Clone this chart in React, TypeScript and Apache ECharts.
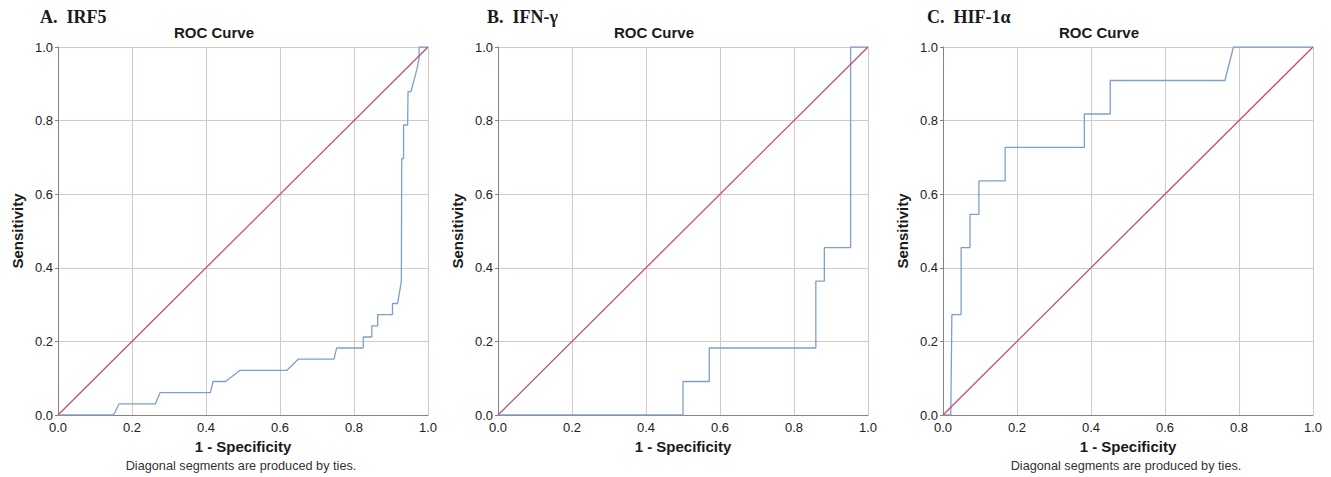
import React, { useEffect, useRef } from "react";
import * as echarts from "echarts";

const panelLabels = ["A.  IRF5", "B.  IFN-γ", "C.  HIF-1α"];
const chartTitle = "ROC Curve";
const xAxisName = "1 - Specificity";
const yAxisName = "Sensitivity";
const footnote = "Diagonal segments are produced by ties.";
const footnotePanels = [0, 2];

const rocIRF5: [number, number][] = [
  [0, 0], [0.150, 0], [0.165, 0.030], [0.263, 0.030], [0.276, 0.061], [0.412, 0.061],
  [0.419, 0.091], [0.453, 0.091], [0.491, 0.121], [0.618, 0.121], [0.650, 0.152],
  [0.746, 0.152], [0.753, 0.182], [0.825, 0.182], [0.825, 0.212], [0.848, 0.212],
  [0.848, 0.242], [0.864, 0.242], [0.864, 0.273], [0.904, 0.273], [0.904, 0.303],
  [0.918, 0.303], [0.923, 0.333], [0.928, 0.364], [0.929, 0.697], [0.934, 0.697],
  [0.934, 0.788], [0.945, 0.788], [0.946, 0.879], [0.954, 0.879], [0.970, 0.939],
  [0.976, 0.970], [0.976, 1], [1, 1],
];
const rocIFNg: [number, number][] = [
  [0, 0], [0.500, 0], [0.500, 0.091], [0.571, 0.091], [0.571, 0.182], [0.859, 0.182],
  [0.859, 0.364], [0.882, 0.364], [0.882, 0.455], [0.953, 0.455], [0.953, 1], [1, 1],
];
const rocHIF1a: [number, number][] = [
  [0, 0], [0.021, 0], [0.024, 0.273], [0.049, 0.273], [0.049, 0.455], [0.073, 0.455],
  [0.073, 0.545], [0.097, 0.545], [0.097, 0.636], [0.168, 0.636], [0.168, 0.727],
  [0.382, 0.727], [0.382, 0.818], [0.452, 0.818], [0.452, 0.909], [0.762, 0.909],
  [0.785, 1], [1, 1],
];
const referenceLine: [number, number][] = [[0, 0], [1, 1]];
const rocCurves = [rocIRF5, rocIFNg, rocHIF1a];

const gridLefts = [58, 498, 943];
const gridWidth = 370;
const gridTop = 47;
const gridHeight = 368;

export default function App() {
  const ref = useRef<HTMLDivElement>(null);
  useEffect(() => {
    if (!ref.current) return;
    const chart = echarts.init(ref.current, undefined, { renderer: "svg" });
    const font = "Liberation Sans";
    const axisLineColor = "#8a8282";
    const gridColor = "#d5c9c5";
    const grids = gridLefts.map((l) => ({ left: l, top: gridTop, width: gridWidth, height: gridHeight }));
    const xAxes = gridLefts.map((_, i) => ({
      type: "value", gridIndex: i, min: 0, max: 1, interval: 0.2,
      name: xAxisName, nameLocation: "middle", nameGap: 24,
      nameTextStyle: { fontFamily: font, fontWeight: "bold", fontSize: 15, color: "#1a1a1a" },
      axisLine: { show: true, onZero: false, lineStyle: { color: axisLineColor, width: 1 } },
      axisTick: { show: false },
      axisLabel: { margin: 6, fontFamily: font, fontSize: 13, color: "#222", formatter: (v: number) => v.toFixed(1) },
      splitLine: { show: true, showMinLine: false, lineStyle: { color: gridColor, width: 1 } },
    }));
    const yAxes = gridLefts.map((_, i) => ({
      type: "value", gridIndex: i, min: 0, max: 1, interval: 0.2,
      name: yAxisName, nameLocation: "middle", nameGap: 33, nameRotate: 90,
      nameTextStyle: { fontFamily: font, fontWeight: "bold", fontSize: 15, color: "#1a1a1a" },
      axisLine: { show: true, onZero: false, lineStyle: { color: axisLineColor, width: 1 } },
      axisTick: { show: true, length: 3, lineStyle: { color: axisLineColor } },
      axisLabel: { margin: 5, fontFamily: font, fontSize: 13, color: "#222", formatter: (v: number) => v.toFixed(1) },
      splitLine: { show: true, showMinLine: false, lineStyle: { color: gridColor, width: 1 } },
    }));
    const series: any[] = [];
    rocCurves.forEach((curve, i) => {
      series.push({
        type: "line", xAxisIndex: i, yAxisIndex: i, data: curve, showSymbol: false,
        lineStyle: { color: "#7f9fca", width: 1.3 }, z: 3,
      });
      series.push({
        type: "line", xAxisIndex: i, yAxisIndex: i, data: referenceLine, showSymbol: false,
        lineStyle: { color: "#c0506e", width: 1.3 }, z: 4,
      });
    });
    const labelX = [40, 487, 927];
    const graphic: any[] = [];
    panelLabels.forEach((t, i) => {
      graphic.push({
        type: "text", x: labelX[i], y: 17,
        style: { text: t, fontFamily: "Liberation Serif", fontWeight: "bold", fontSize: 18, fill: "#1a1a1a", align: "left", verticalAlign: "middle" },
      });
      graphic.push({
        type: "text", x: gridLefts[i] + gridWidth / 2 - 29, y: 32,
        style: { text: chartTitle, fontFamily: font, fontWeight: "bold", fontSize: 15, fill: "#1a1a1a", align: "center", verticalAlign: "middle" },
      });
    });
    footnotePanels.forEach((i) => {
      graphic.push({
        type: "text", x: gridLefts[i] + gridWidth / 2 - 2, y: 466,
        style: { text: footnote, fontFamily: font, fontSize: 12.7, fill: "#333", align: "center", verticalAlign: "middle" },
      });
    });
    chart.setOption({
      animation: false,
      backgroundColor: "#ffffff",
      grid: grids,
      xAxis: xAxes,
      yAxis: yAxes,
      series,
      graphic,
    });
    return () => chart.dispose();
  }, []);
  return <div ref={ref} style={{ position: "fixed", left: 0, top: 0, width: 1331, height: 477 }} />;
}
